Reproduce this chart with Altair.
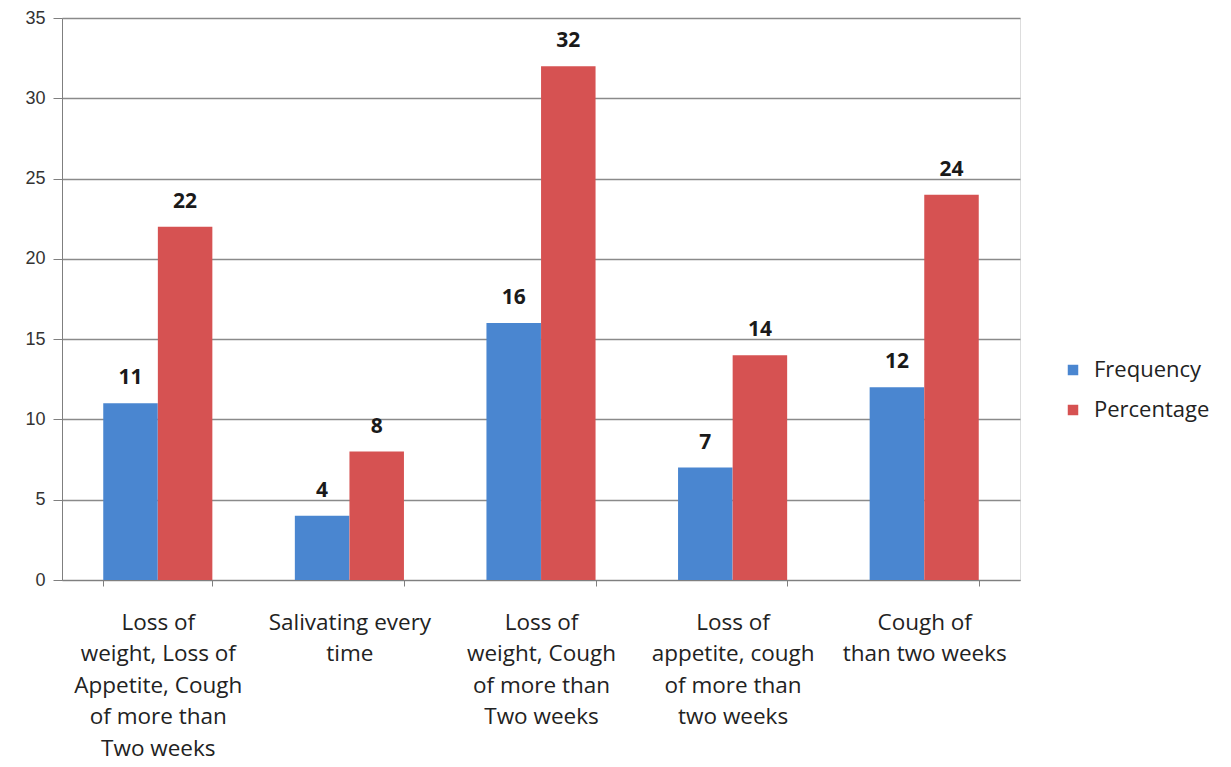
import altair as alt
import pandas as pd

# Symptom groups (line breaks mark how each axis label wraps)
categories = [
    "Loss of|weight, Loss of|Appetite, Cough|of more than|Two weeks",
    "Salivating every|time",
    "Loss of|weight, Cough|of more than|Two weeks",
    "Loss of|appetite, cough|of more than|two weeks",
    "Cough of|than two weeks",
]
series = ["Frequency", "Percentage"]
frequency = [11, 4, 16, 7, 12]
percentage = [22, 8, 32, 14, 24]
colors = ["#4a86d0", "#d65252"]

rows = []
for i, cat in enumerate(categories):
    rows.append({"cat": cat, "series": series[0], "value": frequency[i]})
    rows.append({"cat": cat, "series": series[1], "value": percentage[i]})
df = pd.DataFrame(rows)

x_enc = alt.X(
    "cat:N",
    sort=categories,
    scale=alt.Scale(paddingInner=0.43, paddingOuter=0.215),
    axis=alt.Axis(
        title=None,
        labelAngle=0,
        labelExpr="split(datum.label, '|')",
        labelFont="Open Sans",
        labelFontSize=22.5,
        labelColor="#222222",
        labelLineHeight=31.5,
        labelPadding=25,
        labelBaseline="top",
        labelLimit=300,
        tickBand="extent",
        tickSize=6,
        tickColor="#7f7f7f",
        domainColor="#7f7f7f",
        grid=False,
    ),
)

y_enc = alt.Y(
    "value:Q",
    scale=alt.Scale(domain=[0, 35], nice=False),
    axis=alt.Axis(
        title=None,
        values=[0, 5, 10, 15, 20, 25, 30, 35],
        labelFont="Liberation Sans",
        labelFontSize=18,
        labelColor="#333333",
        labelPadding=8,
        tickSize=9,
        tickColor="#7f7f7f",
        domainColor="#7f7f7f",
        gridColor="#8a8a8a",
        gridWidth=1.5,
    ),
)

color_enc = alt.Color(
    "series:N",
    sort=series,
    scale=alt.Scale(domain=series, range=colors),
    legend=alt.Legend(
        title=None,
        orient="none",
        legendX=1000,
        legendY=341,
        symbolType="square",
        symbolSize=110,
        symbolStrokeWidth=0,
        labelFont="Open Sans",
        labelFontSize=22,
        labelColor="#222222",
        rowPadding=18,
        labelOffset=10,
    ),
)

bars = alt.Chart(df).mark_bar(width=54.5).encode(
    x=x_enc,
    xOffset=alt.XOffset("series:N", sort=series),
    y=y_enc,
    color=color_enc,
)

labels = alt.Chart(df).mark_text(
    dy=-15,
    fontSize=21,
    fontWeight="bold",
    font="Open Sans",
    color="#1a1a1a",
    baseline="bottom",
).encode(
    x=alt.X("cat:N", sort=categories),
    xOffset=alt.XOffset("series:N", sort=series),
    y="value:Q",
    text="value:Q",
)

chart = (
    alt.layer(bars, labels)
    .properties(
        width=958,
        height=562,
        autosize=alt.AutoSizeParams(type="none"),
        padding={"left": 62, "top": 18, "right": 211, "bottom": 187},
    )
    .configure_view(stroke=None)
    .configure(background="white")
)

chart.save("out.html", embed_options={"renderer": "svg", "actions": False})
